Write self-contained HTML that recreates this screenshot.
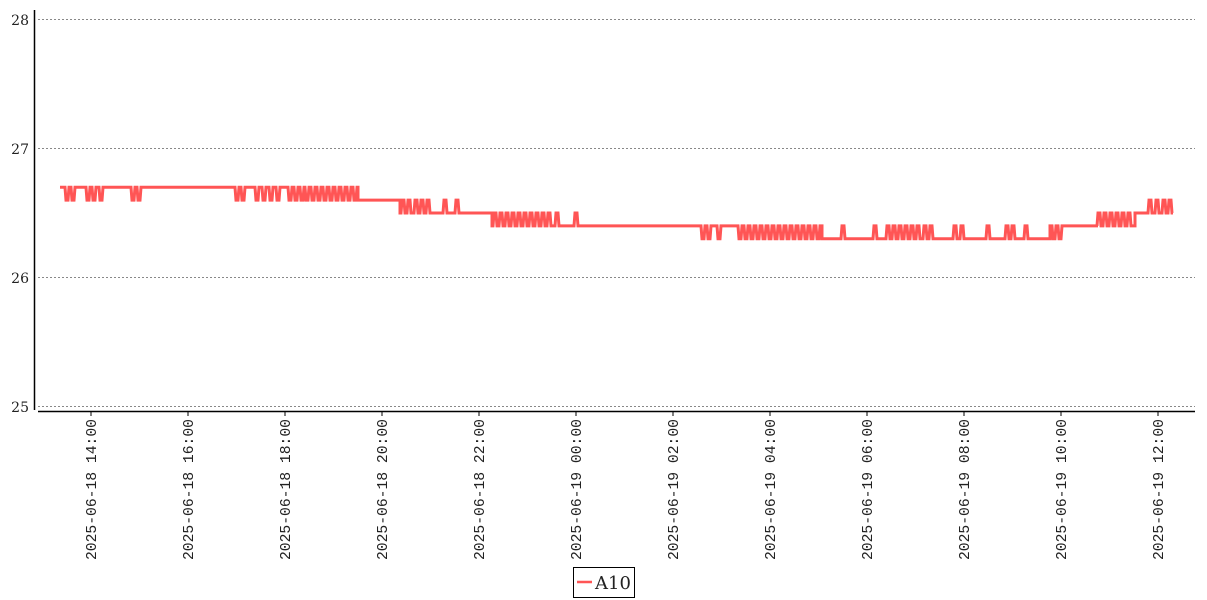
<!DOCTYPE html>
<html><head><meta charset="utf-8"><style>body{margin:0;background:#fff}svg{display:block}</style></head>
<body>
<svg id="s" width="1207" height="600" xmlns="http://www.w3.org/2000/svg" font-family="Liberation Mono, DejaVu Sans Mono, monospace" fill="#222">
<g stroke="#888" stroke-dasharray="2,2" stroke-width="1">
<line x1="38" x2="1195" y1="19.5" y2="19.5"/>
<line x1="38" x2="1195" y1="148.5" y2="148.5"/>
<line x1="38" x2="1195" y1="277.5" y2="277.5"/>
<line x1="38" x2="1195" y1="406.5" y2="406.5"/>
</g>
<line x1="34.5" x2="34.5" y1="10" y2="410" stroke="#000" stroke-width="1.5"/>
<line x1="38" x2="1195" y1="411.5" y2="411.5" stroke="#000" stroke-width="1.5"/>
<g font-size="14" text-anchor="end" font-family="DejaVu Serif, Liberation Serif, serif">
<text x="29" y="25">28</text><text x="29" y="154">27</text><text x="29" y="283">26</text><text x="29" y="412">25</text>
</g>
<g id="xt" font-size="15"></g>
<path id="ln" fill="none" stroke="#ff5555" stroke-width="3" stroke-linejoin="miter"/>
<rect x="573.5" y="567.5" width="61" height="30" fill="#fff" stroke="#000"/>
<line x1="577" x2="592" y1="582" y2="582" stroke="#ff5555" stroke-width="2.5"/>
<text x="595" y="589" font-size="18" font-family="DejaVu Serif, Liberation Serif, serif">A10</text>
</svg>
<script>
var xt=document.getElementById('xt'),ns='http://www.w3.org/2000/svg';
var labs=['2025-06-18 14:00','2025-06-18 16:00','2025-06-18 18:00','2025-06-18 20:00','2025-06-18 22:00','2025-06-19 00:00','2025-06-19 02:00','2025-06-19 04:00','2025-06-19 06:00','2025-06-19 08:00','2025-06-19 10:00','2025-06-19 12:00'];
labs.forEach(function(l,i){var x=91+97*i;
var t=document.createElementNS(ns,'line');t.setAttribute('x1',x);t.setAttribute('x2',x);t.setAttribute('y1',412);t.setAttribute('y2',416);t.setAttribute('stroke','#000');xt.appendChild(t);
var tx=document.createElementNS(ns,'text');tx.setAttribute('transform','translate('+(x+5)+',419) rotate(-90)');tx.setAttribute('text-anchor','end');tx.setAttribute('textLength','141');tx.setAttribute('lengthAdjust','spacingAndGlyphs');tx.textContent=l;xt.appendChild(tx);});
function Y(v){return 406.5-(v-25)*129;}
var seg=[
[60,358,26.7,26.6,[67,73,88,94,101,133,139,237,243,257,264,271,278,290,296,302,307,313,319,325,331,337,343,349,355]],
[358,400,26.6,26.6,[]],
[400,492,26.5,26.6,[403,409,416,422,428,445,457]],
[492,700,26.4,26.5,[495,501,507,513,519,525,531,537,543,549,557,576]],
[700,822,26.4,26.3,[703,709,719,740,746,752,758,764,770,776,782,788,794,800,806,812,818]],
[822,1050,26.3,26.4,[843,875,888,894,900,906,912,918,925,931,955,962,988,1007,1013,1026]],
[1050,1098,26.4,26.3,[1054,1060]],
[1098,1135,26.4,26.5,[1099,1105,1111,1117,1123,1129]],
[1135,1173,26.5,26.6,[1150,1157,1164,1170]]];
var d='';
seg.forEach(function(s){var b=Y(s[2]),o=Y(s[3]);
d+=(d?'L':'M')+s[0]+' '+b;
s[4].forEach(function(x){d+='L'+(x-2)+' '+b+'L'+(x-1)+' '+o+'L'+(x+1)+' '+o+'L'+(x+2)+' '+b;});
d+='L'+s[1]+' '+b;});
document.getElementById('ln').setAttribute('d',d);
</script>
</body></html>
